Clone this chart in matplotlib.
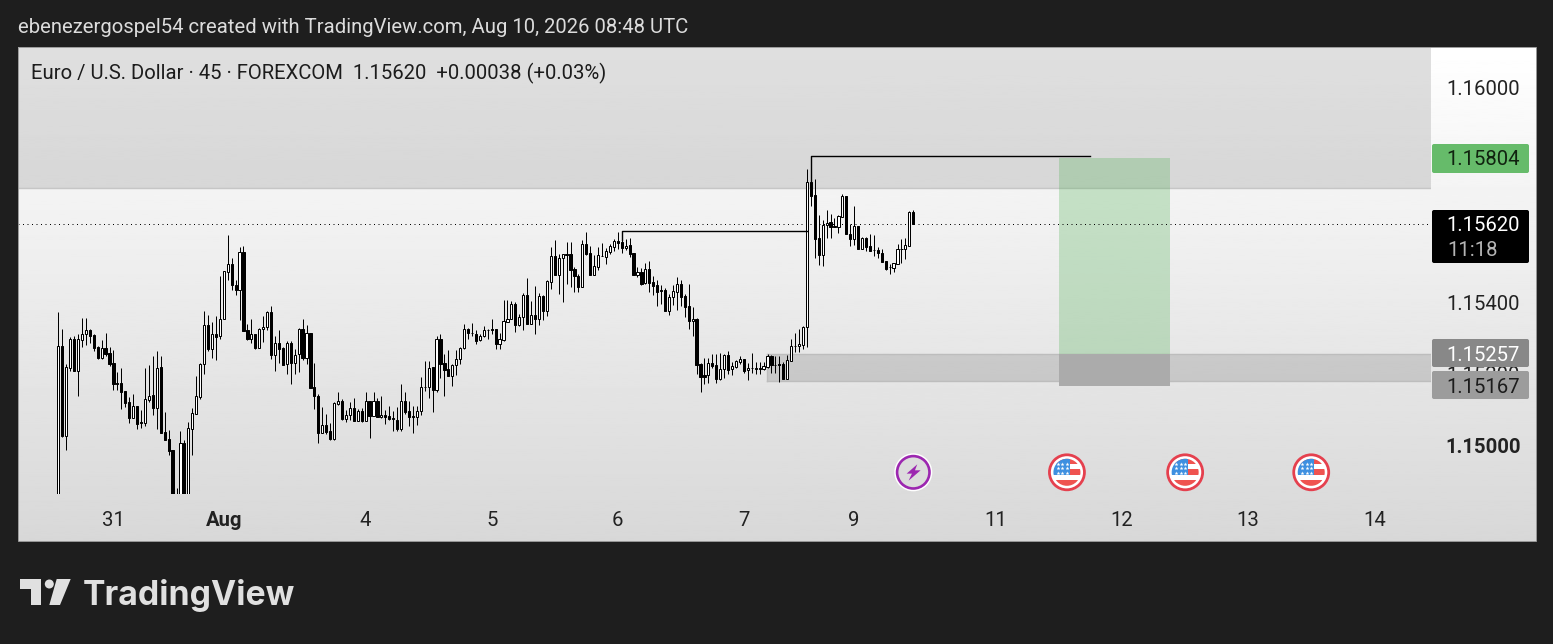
import numpy as np
import matplotlib
matplotlib.use("Agg")
import matplotlib.pyplot as plt
from matplotlib.patches import Rectangle, Circle, Polygon, FancyBboxPatch

plt.rcParams['font.family'] = ['Roboto', 'DejaVu Sans']

# OHLC in points (price * 1e5), 45 min bars
opens = [
    114800,115278,115028,115219,115299,115210,115296,115314,115323,115310,
    115276,115246,115273,115259,115231,115175,115175,115153,115123,115079,
    115112,115066,115065,115128,115142,115107,115220,115039,115019,114989,
    114860,114820,115007,114840,115048,115090,115138,115228,115337,115272,
    115312,115306,115356,115487,115507,115451,115437,115541,115323,115300,
    115312,115274,115327,115333,115373,115255,115289,115273,115228,115287,
    115233,115256,115326,115246,115317,115164,115141,115035,115058,115041,
    115020,115118,115127,115076,115087,115105,115071,115099,115071,115127,
    115085,115125,115082,115087,115083,115077,115074,115048,115127,115097,
    115083,115082,115097,115166,115164,115220,115156,115298,115231,115214,
    115196,115225,115242,115274,115327,115317,115314,115295,115308,115325,
    115326,115326,115286,115296,115347,115355,115396,115338,115359,115422,
    115341,115365,115355,115419,115378,115459,115530,115478,115524,115535,
    115536,115494,115476,115445,115563,115538,115479,115501,115532,115529,
    115543,115557,115572,115569,115554,115561,115538,115478,115485,115454,
    115494,115457,115449,115435,115436,115378,115415,115430,115453,115419,
    115391,115348,115354,115228,115199,115197,115231,115227,115188,115214,
    115254,115214,115220,115236,115242,115211,115218,115217,115217,115216,
    115222,115252,115227,115228,115228,115188,115238,115279,115278,115283,
    115332,115737,115700,115580,115533,115617,115625,115614,115611,115641,
    115699,115591,115577,115615,115551,115580,115558,115548,115548,115539,
    115516,115500,115498,115509,115550,115549,115560,115654,
]
highs = [
    115373,115327,115228,115304,115308,115313,115357,115357,115328,115312,
    115279,115296,115315,115276,115268,115206,115218,115155,115136,115145,
    115113,115100,115217,115226,115251,115264,115252,115095,115046,114989,
    114882,115042,115017,115067,115105,115195,115233,115376,115366,115346,
    115362,115475,115489,115589,115524,115463,115555,115560,115342,115356,
    115313,115331,115362,115377,115390,115306,115323,115277,115292,115294,
    115270,115329,115354,115337,115317,115233,115145,115109,115088,115064,
    115124,115150,115130,115100,115123,115134,115102,115105,115152,115127,
    115150,115133,115141,115100,115111,115099,115109,115173,115150,115125,
    115113,115113,115192,115237,115237,115220,115306,115312,115256,115267,
    115228,115267,115276,115341,115331,115343,115323,115314,115334,115327,
    115356,115327,115315,115408,115407,115405,115401,115370,115426,115468,
    115405,115447,115426,115422,115465,115556,115575,115536,115536,115569,
    115569,115499,115480,115575,115597,115558,115533,115555,115566,115552,
    115563,115578,115597,115599,115577,115580,115538,115499,115497,115510,
    115516,115475,115463,115450,115441,115425,115450,115472,115464,115425,
    115452,115389,115357,115231,115245,115245,115257,115257,115259,115257,
    115266,115234,115240,115250,115244,115231,115259,115236,115236,115236,
    115257,115253,115250,115252,115235,115255,115299,115315,115327,115335,
    115773,115737,115745,115645,115631,115659,115648,115636,115645,115705,
    115699,115619,115671,115615,115583,115585,115592,115590,115555,115550,
    115517,115509,115510,115564,115577,115580,115657,115658,
]
lows = [
    114760,115026,114989,115209,115209,115139,115277,115282,115287,115265,
    115243,115244,115251,115224,115156,115156,115103,115110,115065,115077,
    115047,115050,115056,115124,115086,115047,115035,115017,114975,114820,
    114810,114800,114820,114820,114975,115090,115131,115202,115266,115246,
    115241,115300,115356,115463,115435,115422,115352,115322,115296,115287,
    115272,115274,115291,115324,115243,115209,115231,115225,115202,115174,
    115202,115207,115240,115229,115163,115103,115009,115035,115033,115017,
    115017,115114,115072,115067,115072,115071,115071,115067,115071,115022,
    115085,115081,115079,115062,115072,115043,115043,115041,115089,115056,
    115036,115059,115086,115153,115135,115096,115152,115191,115139,115195,
    115167,115198,115229,115272,115300,115308,115285,115294,115304,115299,
    115314,115271,115271,115292,115347,115354,115318,115336,115324,115340,
    115340,115313,115338,115352,115363,115438,115477,115424,115403,115452,
    115443,115430,115430,115445,115533,115478,115479,115492,115530,115508,
    115537,115546,115549,115540,115548,115527,115479,115471,115451,115453,
    115431,115423,115392,115397,115377,115366,115394,115380,115392,115361,
    115327,115308,115201,115150,115173,115177,115219,115175,115184,115190,
    115201,115199,115217,115230,115205,115185,115203,115201,115201,115213,
    115217,115205,115203,115180,115186,115188,115238,115262,115262,115271,
    115276,115671,115524,115506,115503,115580,115580,115611,115594,115641,
    115591,115559,115562,115551,115551,115545,115546,115531,115524,115513,
    115492,115481,115486,115509,115510,115523,115560,115620,
]
closes = [
    115278,115028,115220,115299,115209,115299,115314,115323,115308,115273,
    115246,115273,115257,115229,115174,115174,115152,115121,115078,115112,
    115061,115065,115130,115141,115107,115219,115037,115017,114987,114840,
    114830,115007,114840,115049,115091,115139,115228,115337,115271,115312,
    115305,115356,115489,115507,115450,115436,115541,115322,115299,115312,
    115273,115328,115333,115373,115255,115289,115272,115227,115287,115231,
    115255,115326,115246,115317,115163,115140,115035,115058,115040,115019,
    115119,115126,115075,115087,115105,115071,115099,115070,115126,115085,
    115125,115082,115087,115081,115076,115076,115047,115127,115095,115082,
    115082,115097,115166,115165,115219,115156,115298,115230,115213,115195,
    115225,115242,115275,115326,115315,115316,115294,115308,115323,115324,
    115323,115285,115298,115348,115356,115396,115339,115359,115421,115341,
    115365,115355,115419,115378,115460,115530,115478,115524,115536,115534,
    115492,115476,115445,115563,115537,115479,115503,115533,115530,115544,
    115558,115572,115568,115554,115560,115537,115479,115485,115453,115495,
    115456,115448,115430,115434,115378,115415,115432,115452,115416,115389,
    115348,115354,115227,115193,115194,115231,115224,115187,115215,115254,
    115213,115224,115237,115242,115210,115217,115217,115216,115216,115223,
    115252,115226,115226,115227,115188,115240,115278,115278,115284,115332,
    115737,115699,115579,115533,115617,115624,115613,115613,115642,115698,
    115591,115577,115614,115551,115580,115557,115546,115547,115538,115514,
    115495,115499,115510,115550,115549,115561,115654,115620,
]

# time axis, bar index of each day label
day_bars = [14, 42, 78, 110, 142, 174, 202, 238, 270, 302, 334]
day_labels = ['31', 'Aug', '4', '5', '6', '7', '9', '11', '12', '13', '14']

# 1.158 and 1.156 sit behind the price tags, so they are not drawn
price_ticks = [1.16000, 1.15400, 1.15200, 1.15000]

last_price = 1.15620
target_price = 1.15804
entry_price = 1.15257
stop_price = 1.15167
zone_top_low = 1.15721
zone_bottom_low = 1.15182

# bar index of the economic events under the chart
bolt_bar = 217
flag_bars = [256, 286, 318]

# Layout (pixels)
W, H = 1553, 644
BAR0, BAR_W = 58.3, 3.94
PANE_L, PANE_R, PANE_T, PANE_B = 18, 1431, 47, 494
FRAME_R, FRAME_B = 1536, 541
FS = 14.6
DY = 1.5  # text centres sit a bit low compared with va='center'


def bar_px(i):
    return BAR0 + BAR_W * i


def price_px(p):
    return 88 + (1.16 - p) * 35800


def px_price(y):
    return 1.16 - (y - 88) / 35800


fig = plt.figure(figsize=(W / 100, H / 100), dpi=100, facecolor='#1e1e1e')

# gradient behind everything
bg = fig.add_axes([PANE_L / W, 1 - FRAME_B / H, (FRAME_R - PANE_L) / W, (FRAME_B - PANE_T) / H])
grad = np.linspace(1.0, 0.847, 256).reshape(-1, 1)
bg.imshow(grad, cmap='gray', vmin=0, vmax=1, aspect='auto')
bg.axis('off')

ax = fig.add_axes([PANE_L / W, 1 - PANE_B / H, (PANE_R - PANE_L) / W, (PANE_B - PANE_T) / H])
ax.patch.set_visible(False)
ax.set_xlim((PANE_L - BAR0) / BAR_W, (PANE_R - BAR0) / BAR_W)
ax.set_ylim(px_price(PANE_B), px_price(PANE_T))
ax.axis('off')

o = np.array(opens) / 1e5
h = np.array(highs) / 1e5
l = np.array(lows) / 1e5
c = np.array(closes) / 1e5
x = np.arange(len(o))
up = c >= o

# zones
ax.axhspan(zone_top_low, px_price(PANE_T), color='#828282', alpha=0.25, lw=0, zorder=1)
ax.axhline(zone_top_low, color='#c6c6c6', lw=1, zorder=1)
band_x0 = (767 - BAR0) / BAR_W
band_x1 = (PANE_R - BAR0) / BAR_W
ax.add_patch(Rectangle((band_x0, zone_bottom_low), band_x1 - band_x0, entry_price - zone_bottom_low,
                       facecolor='#808080', alpha=0.28, edgecolor='none', zorder=1))
ax.plot([band_x0, band_x1], [entry_price, entry_price], color='#bdbdbd', lw=1, zorder=1)
ax.plot([band_x0, band_x1], [zone_bottom_low, zone_bottom_low], color='#bdbdbd', lw=1, zorder=1)
ax.plot([band_x0, band_x0], [zone_bottom_low, entry_price], color='#bdbdbd', lw=1, zorder=1)

# long position box
ax.add_patch(Rectangle((254, entry_price), 28.1, target_price - entry_price,
                       facecolor='#4caf50', alpha=0.28, edgecolor='none', zorder=2))
ax.add_patch(Rectangle((254, stop_price), 28.1, entry_price - stop_price,
                       facecolor='#ababab', edgecolor='none', zorder=2))

ax.axhline(last_price, color='black', lw=0.72, linestyle=(0, (1, 3.5)), zorder=3)

# candles
ax.vlines(x, l, h, color='black', lw=0.72, zorder=4)
ax.bar(x, np.abs(c - o), bottom=np.minimum(o, c), width=0.55,
       color=np.where(up, 'white', 'black').tolist(), edgecolor='black', linewidth=0.72, zorder=5)

# structure lines
ax.plot([143, 143, 190], [1.15575, 1.15600, 1.15600], color='black', lw=1, zorder=6)
ax.plot([191, 191, 261.8], [1.15737, 1.15809, 1.15809], color='black', lw=1, zorder=6)

# overlay in pixels for the chrome
ui = fig.add_axes([0, 0, 1, 1])
ui.patch.set_visible(False)
ui.set_xlim(0, W)
ui.set_ylim(H, 0)
ui.axis('off')

ui.add_patch(Rectangle((PANE_L, PANE_T), FRAME_R - PANE_L, FRAME_B - PANE_T, fill=False,
                       edgecolor='#9a9a9a', lw=0.7))

ui.text(17.5, 26 + DY, 'ebenezergospel54 created with TradingView.com, Aug 10, 2026 08:48 UTC',
        color='#dcdcdc', fontsize=FS, va='center', ha='left')
ui.text(31, 72 + DY, 'Euro / U.S. Dollar · 45 · FOREXCOM  1.15620  +0.00038 (+0.03%)',
        color='#1c1c1c', fontsize=FS, va='center', ha='left')

# price scale
for p in price_ticks:
    weight = 'bold' if p == 1.15 else 'normal'
    ui.text(1483.5, price_px(p) + DY, f'{p:.5f}', color='#222222', fontsize=FS, ha='center',
            va='center', fontweight=weight)


def price_tag(y0, y1, color, zorder=5):
    ui.add_patch(FancyBboxPatch((1434, y0 + 2), 93, y1 - y0 - 4, boxstyle='round,pad=2,rounding_size=2',
                                facecolor=color, edgecolor='none', zorder=zorder))


price_tag(144, 173, '#66bb6a')
ui.text(1483.5, price_px(target_price) + DY, f'{target_price:.5f}', color='#10230f', fontsize=FS,
        ha='center', va='center', zorder=6)
price_tag(210, 263, 'black')
ui.text(1483.5, price_px(last_price) + DY, f'{last_price:.5f}', color='white', fontsize=FS,
        ha='center', va='center', zorder=6)
ui.text(1447, 249 + DY, '11:18', color='#b5b5b5', fontsize=FS, ha='left', va='center', zorder=6)
price_tag(371, 399, '#9c9c9c')
ui.text(1483.5, price_px(stop_price) + DY, f'{stop_price:.5f}', color='#1c1c1c', fontsize=FS,
        ha='center', va='center', zorder=6)
price_tag(339, 367, '#888888')
ui.text(1483.5, price_px(entry_price) + DY, f'{entry_price:.5f}', color='white', fontsize=FS,
        ha='center', va='center', zorder=6)

# time scale
for b, lab in zip(day_bars, day_labels):
    weight = 'bold' if lab == 'Aug' else 'normal'
    ui.text(bar_px(b), 520, lab, color='#222222', fontsize=FS, ha='center', va='center',
            fontweight=weight)

# events
cx, cy = bar_px(bolt_bar), 472.3
ui.add_patch(Circle((cx, cy), 19, facecolor='white', edgecolor='none'))
ui.add_patch(Circle((cx, cy), 16.2, facecolor='#dcdcdc', edgecolor='#9c27b0', lw=1.9))
bolt = np.array([(112, 73), (80, 101), (96, 101), (86, 122), (122, 91), (105, 91)])
ui.add_patch(Polygon(np.column_stack([cx + (bolt[:, 0] - 100) / 3, cy + (bolt[:, 1] - 97) / 3]),
                     facecolor='#9c27b0', edgecolor='none'))


def flag(cx, cy):
    ui.add_patch(Circle((cx, cy), 17.5, facecolor='white', edgecolor='#e5404e', lw=2, zorder=3))
    clip = Circle((cx, cy), 13.5, transform=ui.transData)
    parts = [
        Rectangle((cx - 14, cy - 14), 28, 6, facecolor='#ef5350', edgecolor='none', zorder=4),
        Rectangle((cx + 3, cy - 3), 12, 6, facecolor='#ef5350', edgecolor='none', zorder=4),
        Rectangle((cx - 14, cy + 7.5), 28, 7, facecolor='#ef5350', edgecolor='none', zorder=4),
        Rectangle((cx - 14, cy - 14), 17, 17, facecolor='#3d8fe0', edgecolor='none', zorder=5),
    ]
    for part in parts:
        ui.add_patch(part)
        part.set_clip_path(clip)
    xs, ys = np.meshgrid([cx - 9, cx - 4.5, cx], [cy - 8.5, cy - 4, cy + 0.5])
    ui.scatter(xs.ravel(), ys.ravel(), marker='*', s=9, color='white', linewidths=0, zorder=6)


for b in flag_bars:
    flag(bar_px(b), 472.3)

# TradingView logo
logo = '#e0e0e0'
ui.add_patch(Polygon([(20, 579), (41, 579), (41, 605), (30.7, 605), (30.7, 589), (20, 589)],
                     facecolor=logo, edgecolor='none'))
ui.add_patch(Circle((49.3, 584), 4.5, facecolor=logo, edgecolor='none'))
ui.add_patch(Polygon([(56.7, 579), (70.7, 579), (60, 605), (49.3, 605)], facecolor=logo, edgecolor='none'))
ui.text(82.5, 595, 'TradingView', color=logo, fontsize=24.3, fontweight='bold', ha='left',
        va='center', family=['Inter', 'DejaVu Sans'])

fig.savefig('out.png', dpi=100, facecolor=fig.get_facecolor())
